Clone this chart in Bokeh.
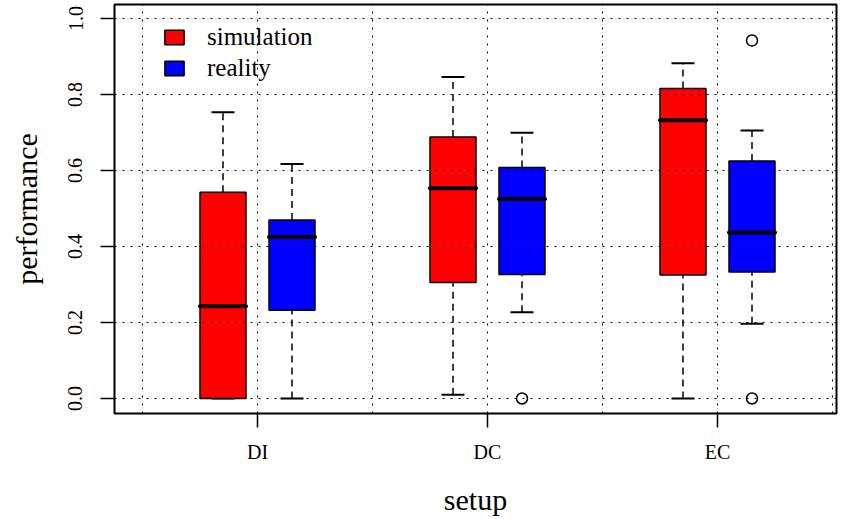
import numpy as np
from bokeh.plotting import figure
from bokeh.models import FixedTicker, Legend, LegendItem, Range1d, ColumnDataSource
from bokeh.embed import file_html
from bokeh.resources import INLINE

# ---- data ----
setups = ["DI", "DC", "EC"]
series = ["simulation", "reality"]
colors = ["#ff0000", "#0000ff"]

sim_lower = [0.000, 0.010, 0.000]
sim_q1 = [0.000, 0.305, 0.325]
sim_median = [0.243, 0.553, 0.732]
sim_q3 = [0.543, 0.688, 0.816]
sim_upper = [0.753, 0.846, 0.882]

real_lower = [0.000, 0.227, 0.197]
real_q1 = [0.232, 0.326, 0.333]
real_median = [0.425, 0.525, 0.437]
real_q3 = [0.470, 0.608, 0.625]
real_upper = [0.617, 0.699, 0.705]

outlier_setup = ["DC", "EC", "EC"]
outlier_series = ["reality", "reality", "reality"]
outlier_values = [0.000, 0.942, 0.000]

y_ticks = [0.0, 0.2, 0.4, 0.6, 0.8, 1.0]

# ---- layout helpers ----
group_center = {s: 1 + 2 * i for i, s in enumerate(setups)}
series_offset = {"simulation": -0.3, "reality": 0.3}
half_w = 0.2
cap_w = 0.1

FONT = "Liberation Serif"

p = figure(width=852, height=519,
           x_range=Range1d(-0.2435, 6.0348), y_range=Range1d(-0.0395, 1.0368),
           output_backend="svg", toolbar_location=None,
           min_border_left=114, min_border_right=16, min_border_top=4, min_border_bottom=106)
p.background_fill_color = "white"
p.border_fill_color = "white"
p.outline_line_color = "black"
p.outline_line_width = 2

# grid (dotted, drawn over the boxes like R's grid())
p.xgrid.ticker = FixedTicker(ticks=[0, 1, 2, 3, 4, 5, 6])
p.ygrid.ticker = FixedTicker(ticks=y_ticks)
for g in (p.xgrid, p.ygrid):
    g.grid_line_color = "black"
    g.grid_line_dash = "2 6"
    g.grid_line_width = 1
    g.level = "annotation"

renderers = {}
for name, color, lo, q1, med, q3, hi in [
        ("simulation", colors[0], sim_lower, sim_q1, sim_median, sim_q3, sim_upper),
        ("reality", colors[1], real_lower, real_q1, real_median, real_q3, real_upper)]:
    xs = [group_center[s] + series_offset[name] for s in setups]
    src = ColumnDataSource(dict(
        x=xs, left=[x - half_w for x in xs], right=[x + half_w for x in xs],
        cl=[x - cap_w for x in xs], cr=[x + cap_w for x in xs],
        lo=lo, q1=q1, med=med, q3=q3, hi=hi))
    # whiskers
    p.segment(x0="x", y0="q3", x1="x", y1="hi", source=src, line_color="black",
              line_width=1.5, line_dash="7 5")
    p.segment(x0="x", y0="lo", x1="x", y1="q1", source=src, line_color="black",
              line_width=1.5, line_dash="7 5")
    p.segment(x0="cl", y0="hi", x1="cr", y1="hi", source=src, line_color="black", line_width=2)
    p.segment(x0="cl", y0="lo", x1="cr", y1="lo", source=src, line_color="black", line_width=2)
    r = p.quad(left="left", right="right", bottom="q1", top="q3", source=src,
               fill_color=color, line_color="black", line_width=1.5)
    renderers[name] = r
    p.segment(x0="left", y0="med", x1="right", y1="med", source=src, line_color="black",
              line_width=4, line_cap="round")

ox = [group_center[s] + series_offset[n] for s, n in zip(outlier_setup, outlier_series)]
p.scatter(x=ox, y=outlier_values, marker="circle", size=11, fill_color=None,
          line_color="black", line_width=1.5)

# axes
p.xaxis.ticker = FixedTicker(ticks=[group_center[s] for s in setups])
p.xaxis.major_label_overrides = {group_center[s]: s for s in setups}
p.yaxis.ticker = FixedTicker(ticks=y_ticks)
p.yaxis.major_label_overrides = {t: f"{t:.1f}" for t in y_ticks}
p.yaxis.major_label_orientation = "vertical"
p.xaxis.axis_label = "setup"
p.yaxis.axis_label = "performance"
for ax in (p.xaxis[0], p.yaxis[0]):
    ax.axis_line_color = None
    ax.major_tick_in = 0
    ax.major_tick_out = 14
    ax.major_tick_line_width = 1.5
    ax.major_tick_line_color = "black"
    ax.minor_tick_out = 0
    ax.minor_tick_in = 0
    ax.major_label_text_font = FONT
    ax.major_label_text_font_size = "20px"
    ax.major_label_text_color = "black"
    ax.axis_label_text_font = FONT
    ax.axis_label_text_font_size = "30px"
    ax.axis_label_text_font_style = "normal"
    ax.axis_label_text_color = "black"
p.xaxis.major_label_standoff = 13
p.xaxis.axis_label_standoff = 17
p.yaxis.major_label_standoff = 18
p.yaxis.axis_label_standoff = 23

legend = Legend(items=[LegendItem(label=n, renderers=[renderers[n]]) for n in series],
                location=(48, 331), label_text_font=FONT, label_text_font_size="25px",
                label_text_color="black",
                glyph_width=24, glyph_height=18, label_standoff=21, spacing=3,
                padding=0, margin=0, border_line_color=None, background_fill_alpha=0)
p.add_layout(legend)

open("out.html", "w").write(file_html(p, INLINE))
